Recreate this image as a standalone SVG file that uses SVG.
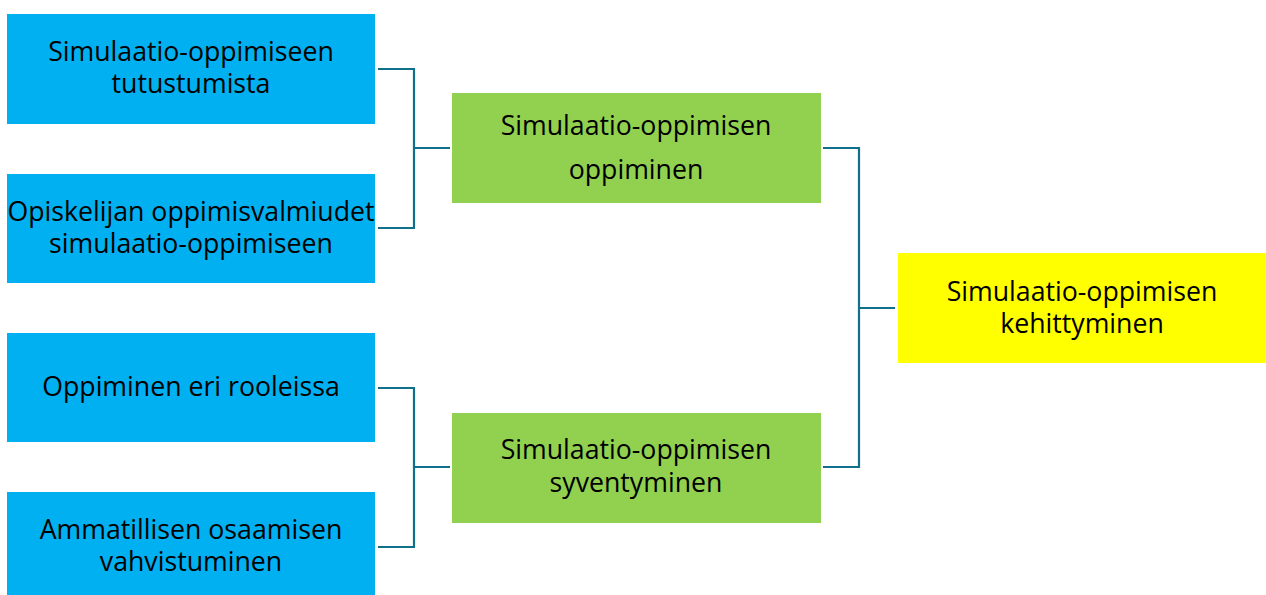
<svg xmlns="http://www.w3.org/2000/svg" width="1266" height="595" viewBox="0 0 1266 595">
  <style>
    .lbl { font-family: "Open Sans", "Noto Sans", "DejaVu Sans", sans-serif; font-size: 26.7px; fill: #000; text-anchor: middle; }
    .blue { fill: #00B0F0; }
    .green { fill: #92D050; }
    .yellow { fill: #FFFF00; }
    .wire { fill: none; stroke: #106F8A; stroke-width: 2.2; }
  </style>
  <rect width="1266" height="595" fill="#fff"/>

  <g id="connectors">
    <!-- left upper bracket -->
    <polyline class="wire" points="378,69 414,69 414,228 378,228"/>
    <line class="wire" x1="414" y1="148" x2="450" y2="148"/>
    <!-- left lower bracket -->
    <polyline class="wire" points="378,388 414,388 414,547 378,547"/>
    <line class="wire" x1="414" y1="467" x2="450" y2="467"/>
    <!-- right bracket -->
    <polyline class="wire" points="823,148 859,148 859,467 823,467"/>
    <line class="wire" x1="859" y1="308" x2="895" y2="308"/>
  </g>

  <g id="node-tutustumista">
    <rect class="blue" x="7" y="14" width="368" height="110"/>
    <text class="lbl" x="191" y="61">Simulaatio-oppimiseen</text>
    <text class="lbl" x="191" y="93">tutustumista</text>
  </g>
  <g id="node-valmiudet">
    <rect class="blue" x="7" y="174" width="368" height="109"/>
    <text class="lbl" x="191" y="221">Opiskelijan oppimisvalmiudet</text>
    <text class="lbl" x="191" y="253">simulaatio-oppimiseen</text>
  </g>
  <g id="node-rooleissa">
    <rect class="blue" x="7" y="333" width="368" height="109"/>
    <text class="lbl" x="191" y="396">Oppiminen eri rooleissa</text>
  </g>
  <g id="node-vahvistuminen">
    <rect class="blue" x="7" y="492" width="368" height="110"/>
    <text class="lbl" x="191" y="539">Ammatillisen osaamisen</text>
    <text class="lbl" x="191" y="571">vahvistuminen</text>
  </g>

  <g id="node-oppiminen">
    <rect class="green" x="452" y="93" width="369" height="110"/>
    <text class="lbl" x="636" y="135">Simulaatio-oppimisen</text>
    <text class="lbl" x="636" y="179">oppiminen</text>
  </g>
  <g id="node-syventyminen">
    <rect class="green" x="452" y="413" width="369" height="110"/>
    <text class="lbl" x="636" y="459">Simulaatio-oppimisen</text>
    <text class="lbl" x="636" y="492">syventyminen</text>
  </g>

  <g id="node-kehittyminen">
    <rect class="yellow" x="898" y="253" width="368" height="110"/>
    <text class="lbl" x="1082" y="301">Simulaatio-oppimisen</text>
    <text class="lbl" x="1082" y="333">kehittyminen</text>
  </g>
</svg>
